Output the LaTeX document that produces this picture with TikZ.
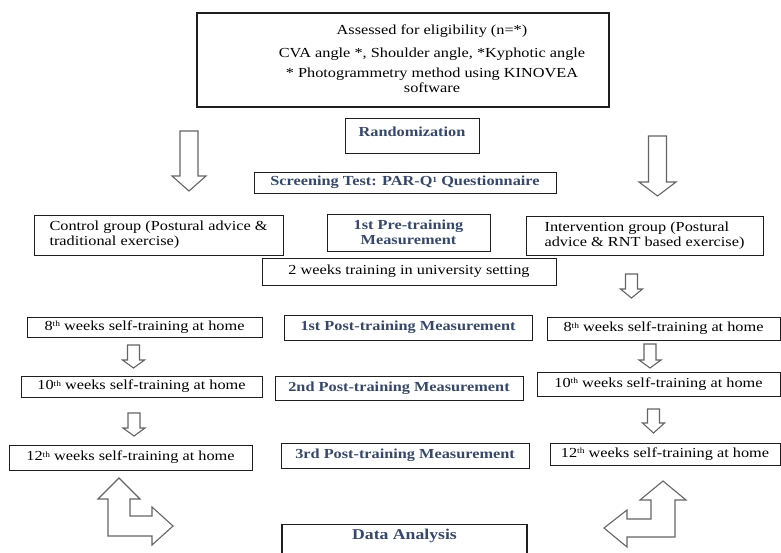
\documentclass[tikz,border=0pt]{standalone}
\usepackage{fontspec}
\setmainfont{Liberation Serif}[FakeStretch=1.18]
\usepackage{tikz}
\usetikzlibrary{calc}
\usetikzlibrary{positioning}
\definecolor{headblue}{RGB}{55, 71, 102}
\definecolor{arrowgray}{RGB}{100, 100, 100}
\definecolor{boxline}{RGB}{30, 30, 30}
\newcommand{\smallsup}[1]{\raisebox{0.55ex}{\fontsize{8}{8}\selectfont #1}}

\begin{document}
\begin{tikzpicture}[x=1pt, y=-1pt,
    box/.style={draw=boxline, line width=0.9pt, inner sep=0pt, font=\fontsize{13.8}{15}\selectfont},
    headbox/.style={box, text=headblue, font=\bfseries\fontsize{13.8}{15}\selectfont},
    headtxt/.style={inner sep=0pt, text=headblue, font=\bfseries\fontsize{13.8}{15}\selectfont},
    blockarr/.style={draw=arrowgray, line width=1.1pt, line join=miter, fill=white}]
            \useasboundingbox (0,0) rectangle (781,552);
            \clip (0,0) rectangle (781,552);
            % top: eligibility
            \node[box, line width=1.3pt, minimum width=412, minimum height=94] (elig) at (403,60) {};
            \node[inner sep=0pt, align=center, font=\fontsize{13.8}{15}\selectfont] (eligtxt) at (432,59)
                 {Assessed for eligibility (n=*)\\[8pt]
                  CVA angle *, Shoulder angle, *Kyphotic angle\\[5pt]
                  * Photogrammetry method using KINOVEA\\
                  software};
            \node[box, minimum width=134, minimum height=35] (rand) at (412,135.5) {};
            \node[headtxt] (randtxt) at (412,132) {Randomization};
            \node[headbox, minimum width=302, minimum height=21] (screen) at (405,182.5)
                 {Screening Test: PAR-Q\smallsup{1} Questionnaire};
            % groups
            \node[box, minimum width=249, minimum height=40, align=left] (ctrl) at (158.5,235)
                 {Control group (Postural advice \&\\traditional exercise)};
            \node[headbox, minimum width=163, minimum height=37, align=center] (pre1) at (408.5,232.5)
                 {1st Pre-training\\Measurement};
            \node[box, minimum width=237, minimum height=39, align=left] (intv) at (644.5,235.5)
                 {Intervention group (Postural\\advice \& RNT based exercise)};
            \node[box, minimum width=294, minimum height=27] (wk2) at (409,271.5)
                 {2 weeks training in university setting};
            % home training and measurements
            \node[box, minimum width=235, minimum height=20] (l8)    at (144.5,327)   {8\smallsup{th} weeks self-training at home};
            \node[headbox, minimum width=248, minimum height=25] (post1) at (408,327.5) {1st Post-training Measurement};
            \node[box, minimum width=233, minimum height=23] (r8)    at (663.5,328.5) {8\smallsup{th} weeks self-training at home};
            \node[box, minimum width=241, minimum height=21] (l10)   at (141.5,386.5) {10\smallsup{th} weeks self-training at home};
            \node[headbox, minimum width=248, minimum height=24] (post2) at (399,388)  {2nd Post-training Measurement};
            \node[box, minimum width=243, minimum height=24] (r10)   at (658.5,384)   {10\smallsup{th} weeks self-training at home};
            \node[box, minimum width=243, minimum height=25] (l12)   at (130.5,457.5) {12\smallsup{th} weeks self-training at home};
            \node[headbox, minimum width=248, minimum height=25] (post3) at (405,455.5) {3rd Post-training Measurement};
            \node[box, minimum width=230, minimum height=22] (r12)   at (665,454)     {12\smallsup{th} weeks self-training at home};
            \node[box, line width=1.1pt, minimum width=245, minimum height=40, anchor=north] (data) at (404.5,524) {};
            \node[headtxt, font=\bfseries\fontsize{15}{16}\selectfont] (datatxt) at (404.5,536) {Data Analysis};
            % block arrows
            \draw[blockarr] (180,131)   -- ++(18,0) -- ++(0,45) -- ++(8,0)  -- ++(-17,15)   -- ++(-17,-15)   -- ++(8,0)  -- cycle;
            \draw[blockarr] (648.5,136) -- ++(18,0) -- ++(0,46) -- ++(9.5,0) -- ++(-18.5,14) -- ++(-18.5,-14) -- ++(9.5,0) -- cycle;
            \draw[blockarr] (625.5,274) -- ++(12,0) -- ++(0,15) -- ++(5,0)  -- ++(-11,9)    -- ++(-11,-9)    -- ++(5,0)  -- cycle;
            \draw[blockarr] (127.5,345) -- ++(12,0) -- ++(0,15) -- ++(5,0)  -- ++(-11,8)    -- ++(-11,-8)    -- ++(5,0)  -- cycle;
            \draw[blockarr] (644,344)   -- ++(12,0) -- ++(0,16) -- ++(5,0)  -- ++(-11,8)    -- ++(-11,-8)    -- ++(5,0)  -- cycle;
            \draw[blockarr] (128,413)   -- ++(12,0) -- ++(0,15) -- ++(5,0)  -- ++(-11,8)    -- ++(-11,-8)    -- ++(5,0)  -- cycle;
            \draw[blockarr] (647.5,409) -- ++(12,0) -- ++(0,14) -- ++(5,0)  -- ++(-11,10)   -- ++(-11,-10)   -- ++(5,0)  -- cycle;
            % bent arrows to data analysis
            \draw[blockarr] (119,478) -- (140,499) -- (130,499) -- (130,516) -- (152,516) -- (152,507) -- (173,526)
                 -- (152,545) -- (152,536) -- (108,536) -- (108,499) -- (98,499) -- cycle;
            \draw[blockarr] (663,481) -- (686,500) -- (675,500) -- (675,537) -- (627,537) -- (627,547) -- (604,528)
                 -- (627,510) -- (627,519) -- (651,519) -- (651,500) -- (640,500) -- cycle;
\end{tikzpicture}
\end{document}
